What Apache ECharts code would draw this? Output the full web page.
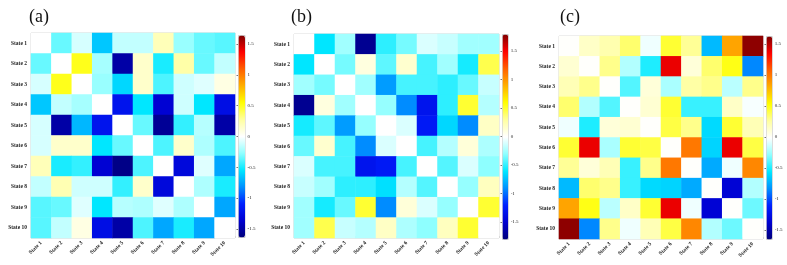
<!DOCTYPE html>
<html>
<head>
<meta charset="utf-8">
<script src="https://cdn.jsdelivr.net/npm/echarts@6/dist/echarts.min.js"></script>
<style>
  html, body { margin: 0; background: #fff; }
  #chart { width: 787px; height: 265px; }
</style>
</head>
<body>
<div id="chart"></div>
<script>
  // categories
  const states = ['State 1', 'State 2', 'State 3', 'State 4', 'State 5',
                  'State 6', 'State 7', 'State 8', 'State 9', 'State 10'];

  // rows = State 1..10 (top to bottom), cols = State 1..10
  const panelA = [
    [0, -0.35, -0.1, -0.65, -0.15, -0.15, 0.2, -0.25, -0.35, -0.38],
    [-0.35, 0, 0.5, -0.22, -1.5, 0.15, -0.5, 0.25, -0.35, -0.15],
    [-0.1, 0.5, 0, -0.25, -0.6, 0.15, -0.4, -0.12, -0.08, 0.08],
    [-0.65, -0.15, -0.22, 0, -1.2, -0.55, -1.35, -0.12, -0.55, -1.25],
    [-0.1, -1.5, -0.7, -1.2, 0, -0.35, -1.55, -0.45, -0.18, -1.5],
    [-0.1, 0.15, 0.15, -0.55, -0.35, 0, -0.4, 0.15, -0.2, -0.4],
    [0.2, -0.5, -0.45, -1.35, -1.6, -0.4, 0, -1.3, -0.08, -0.75],
    [-0.15, 0.22, -0.12, -0.12, -0.45, 0.15, -1.3, 0, -0.2, -0.5],
    [-0.38, -0.35, -0.08, -0.55, -0.18, -0.2, -0.08, -0.2, 0, -0.75],
    [-0.38, -0.15, 0.08, -1.25, -1.5, -0.4, -0.75, -0.5, -0.75, 0]
  ];

  const panelB = [
    [0, -0.6, -0.25, -1.7, -0.5, -0.35, -0.1, -0.15, -0.25, -0.25],
    [-0.6, 0, -0.35, 0.1, -0.4, 0.15, -0.45, -0.25, -0.55, 0.45],
    [-0.25, -0.35, 0, -0.25, -0.85, -0.45, -0.45, -0.5, -0.38, -0.15],
    [-1.7, 0.1, -0.25, 0, -0.28, -0.9, -1.3, -0.5, 0.5, -0.2],
    [-0.55, -0.4, -0.85, -0.28, 0, -0.1, -1.25, -0.65, -0.9, 0.18],
    [-0.38, 0.15, -0.45, -0.9, -0.1, 0, -0.45, -0.2, 0.12, -0.22],
    [-0.1, -0.45, -0.45, -1.3, -1.25, -0.45, 0, -0.42, -0.1, -0.3],
    [-0.15, -0.25, -0.5, -0.5, -0.62, -0.2, -0.42, 0, -0.28, 0.2],
    [-0.25, -0.55, -0.38, 0.5, -0.9, 0.12, -0.1, -0.28, 0, 0.5],
    [-0.25, 0.45, -0.15, -0.2, 0.18, -0.22, -0.3, 0.2, 0.5, 0]
  ];

  const panelC = [
    [0, 0.15, 0.22, 0.35, -0.05, 0.45, 0.28, -0.7, 0.85, 1.6],
    [0.12, 0, 0.3, -0.2, -0.5, 1.4, 0.1, 0.35, 0.5, -0.85],
    [0.2, 0.3, 0, -0.4, 0.1, -0.22, 0.25, 0.3, -0.18, 0.3],
    [0.35, -0.2, -0.4, 0, 0.12, 0.45, -0.45, -0.45, 0.15, -0.03],
    [-0.05, -0.5, 0.1, 0.12, 0, 0.42, 0.3, -0.6, 0.45, 0.2],
    [0.45, 1.4, -0.22, 0.45, 0.42, 0, 1.0, -0.62, 1.4, 0.42],
    [0.28, 0.1, 0.2, -0.45, 0.3, 1.0, 0, -0.75, -0.05, 0.95],
    [-0.7, 0.35, 0.3, -0.45, -0.6, -0.62, -0.75, 0, -1.35, -0.2],
    [0.85, 0.5, -0.18, 0.15, 0.45, 1.4, -0.05, -1.35, 0, -0.35],
    [1.6, -0.85, 0.3, -0.05, 0.2, 0.42, 0.95, -0.2, -0.35, 0]
  ];

  const titles = ['(a)', '(b)', '(c)'];
  const colorRanges = [[-1.64, 1.64], [-1.78, 1.78], [-1.65, 1.63]];

  const jetWhite = ['#00007a', '#0000d0', '#0020ff', '#0090ff', '#00e8ff', '#90ffff', '#ffffff',
                    '#ffffa0', '#ffff00', '#ffb000', '#ff6000', '#ff0000', '#800000'];

  const chart = echarts.init(document.getElementById('chart'));

  // layout of each panel: heatmap box, colorbar box, colorbar tick axis box
  const layout = [
    { grid: [31, 33, 204, 205], bar: [238, 35, 6.5, 202], ticks: [44, 185], title: 24 },
    { grid: [294, 34, 205, 204], bar: [502, 34, 5.7, 205], ticks: [51, 171], title: 286 },
    { grid: [559, 36, 204, 203], bar: [766, 36, 5.7, 203], ticks: [44, 186], title: 555 }
  ];

  const labelFont = { fontFamily: 'Liberation Serif', fontWeight: 'bold', fontSize: 5.5, color: '#222' };

  function toCells(matrix) {
    const out = [];
    matrix.forEach((row, r) => row.forEach((v, c) => out.push([c, r, v])));
    return out;
  }

  const grids = [], xAxes = [], yAxes = [], series = [], visualMaps = [], title = [];
  [panelA, panelB, panelC].forEach((m, i) => {
    const L = layout[i];
    grids.push({
      left: L.grid[0], top: L.grid[1], width: L.grid[2], height: L.grid[3],
      show: true, borderColor: '#d0d0d0', borderWidth: 1
    });
    xAxes.push({
      type: 'category', data: states, gridIndex: 2 * i,
      axisLine: { show: false }, splitLine: { show: false },
      axisTick: { show: true, length: 2, inside: true, lineStyle: { color: '#ccc' } },
      axisLabel: Object.assign({ interval: 0, rotate: 45, margin: 4 }, labelFont)
    });
    yAxes.push({
      type: 'category', data: states, gridIndex: 2 * i, inverse: true,
      axisLine: { show: false }, splitLine: { show: false },
      axisTick: { show: false },
      axisLabel: Object.assign({ interval: 0, margin: 4 }, labelFont)
    });
    series.push({
      type: 'heatmap', xAxisIndex: 2 * i, yAxisIndex: 2 * i,
      data: toCells(m), itemStyle: { borderWidth: 0 }
    });
    visualMaps.push({
      type: 'continuous', seriesIndex: i, dimension: 2,
      min: colorRanges[i][0], max: colorRanges[i][1],
      left: L.bar[0], top: L.bar[1], itemWidth: L.bar[2], itemHeight: L.bar[3],
      padding: 0, borderColor: '#c8c8c8', borderWidth: 1,
      calculable: false, realtime: false, text: null, showLabel: false,
      inRange: { color: jetWhite }, outOfRange: { color: '#fff' }
    });

    // colorbar tick labels
    grids.push({ left: L.bar[0], top: L.ticks[0], width: L.bar[2], height: L.ticks[1], show: false });
    xAxes.push({ type: 'value', gridIndex: 2 * i + 1, show: false });
    yAxes.push({
      type: 'value', gridIndex: 2 * i + 1, position: 'right',
      min: -1.5, max: 1.5, interval: 0.5,
      axisLine: { show: false }, splitLine: { show: false },
      axisTick: { show: true, inside: true, length: 1.5, lineStyle: { color: '#777' } },
      axisLabel: {
        margin: 3, fontFamily: 'Liberation Serif', fontSize: 5, color: '#222',
        formatter: v => String(v)
      }
    });

    title.push({
      text: titles[i], left: L.title, top: 3,
      textStyle: { fontFamily: 'Liberation Serif', fontWeight: 'normal', fontSize: 18, color: '#111' }
    });
  });

  chart.setOption({
    animation: false,
    title: title,
    grid: grids,
    xAxis: xAxes,
    yAxis: yAxes,
    visualMap: visualMaps,
    series: series
  });
</script>
</body>
</html>
